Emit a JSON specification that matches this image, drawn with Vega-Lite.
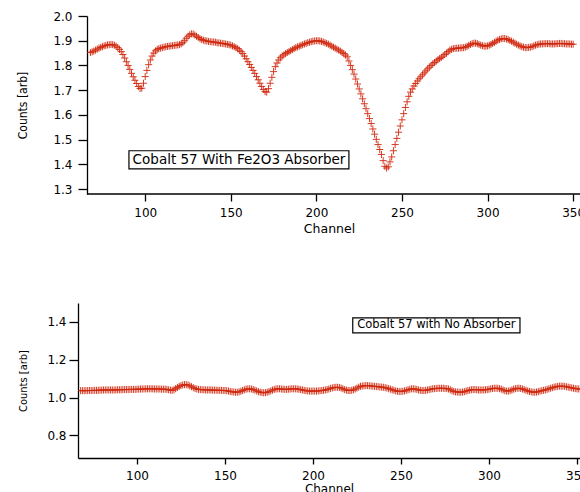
{
"$schema": "https://vega.github.io/schema/vega-lite/v6.json",
"padding": {"left": 16, "top": 10, "right": 0, "bottom": 0},
"background": "white",
"columns": 1,
"align": "none",
"spacing": 68,
"config": {
 "view": {"stroke": null},
 "axis": {"domainColor": "black", "domainWidth": 1.3, "tickColor": "black", "tickWidth": 1.3, "grid": false, "labelColor": "black", "titleColor": "black", "labelFont": "DejaVu Sans", "titleFont": "DejaVu Sans", "labelFontSize": 12, "titleFontWeight": "normal", "labelFlush": false, "labelOverlap": false}
},
"datasets": {
"fe": [
{"channel":68,"counts":1.852},{"channel":69,"counts":1.855},{"channel":70,"counts":1.858},{"channel":71,"counts":1.862},{"channel":72,"counts":1.866},{"channel":73,"counts":1.870},{"channel":74,"counts":1.873},{"channel":75,"counts":1.876},{"channel":76,"counts":1.879},{"channel":77,"counts":1.881},{"channel":78,"counts":1.883},{"channel":79,"counts":1.884},{"channel":80,"counts":1.885},{"channel":81,"counts":1.884},{"channel":82,"counts":1.882},{"channel":83,"counts":1.878},{"channel":84,"counts":1.872},{"channel":85,"counts":1.865},{"channel":86,"counts":1.856},{"channel":87,"counts":1.844},{"channel":88,"counts":1.830},{"channel":89,"counts":1.815},{"channel":90,"counts":1.800},{"channel":91,"counts":1.784},{"channel":92,"counts":1.768},{"channel":93,"counts":1.754},{"channel":94,"counts":1.740},{"channel":95,"counts":1.727},{"channel":96,"counts":1.715},{"channel":97,"counts":1.707},{"channel":98,"counts":1.708},{"channel":99,"counts":1.728},{"channel":100,"counts":1.755},{"channel":101,"counts":1.780},{"channel":102,"counts":1.803},{"channel":103,"counts":1.822},{"channel":104,"counts":1.838},{"channel":105,"counts":1.850},{"channel":106,"counts":1.859},{"channel":107,"counts":1.865},{"channel":108,"counts":1.868},{"channel":109,"counts":1.870},{"channel":110,"counts":1.872},{"channel":111,"counts":1.874},{"channel":112,"counts":1.876},{"channel":113,"counts":1.877},{"channel":114,"counts":1.878},{"channel":115,"counts":1.879},{"channel":116,"counts":1.880},{"channel":117,"counts":1.881},{"channel":118,"counts":1.882},{"channel":119,"counts":1.883},{"channel":120,"counts":1.884},{"channel":121,"counts":1.887},{"channel":122,"counts":1.892},{"channel":123,"counts":1.900},{"channel":124,"counts":1.910},{"channel":125,"counts":1.918},{"channel":126,"counts":1.924},{"channel":127,"counts":1.928},{"channel":128,"counts":1.927},{"channel":129,"counts":1.923},{"channel":130,"counts":1.918},{"channel":131,"counts":1.913},{"channel":132,"counts":1.908},{"channel":133,"counts":1.905},{"channel":134,"counts":1.902},{"channel":135,"counts":1.900},{"channel":136,"counts":1.899},{"channel":137,"counts":1.897},{"channel":138,"counts":1.896},{"channel":139,"counts":1.895},{"channel":140,"counts":1.895},{"channel":141,"counts":1.894},{"channel":142,"counts":1.892},{"channel":143,"counts":1.891},{"channel":144,"counts":1.890},{"channel":145,"counts":1.889},{"channel":146,"counts":1.888},{"channel":147,"counts":1.887},{"channel":148,"counts":1.885},{"channel":149,"counts":1.884},{"channel":150,"counts":1.882},{"channel":151,"counts":1.879},{"channel":152,"counts":1.876},{"channel":153,"counts":1.872},{"channel":154,"counts":1.868},{"channel":155,"counts":1.862},{"channel":156,"counts":1.856},{"channel":157,"counts":1.848},{"channel":158,"counts":1.838},{"channel":159,"counts":1.827},{"channel":160,"counts":1.815},{"channel":161,"counts":1.804},{"channel":162,"counts":1.792},{"channel":163,"counts":1.780},{"channel":164,"counts":1.768},{"channel":165,"counts":1.755},{"channel":166,"counts":1.742},{"channel":167,"counts":1.728},{"channel":168,"counts":1.715},{"channel":169,"counts":1.703},{"channel":170,"counts":1.694},{"channel":171,"counts":1.692},{"channel":172,"counts":1.706},{"channel":173,"counts":1.728},{"channel":174,"counts":1.752},{"channel":175,"counts":1.775},{"channel":176,"counts":1.795},{"channel":177,"counts":1.810},{"channel":178,"counts":1.822},{"channel":179,"counts":1.831},{"channel":180,"counts":1.838},{"channel":181,"counts":1.843},{"channel":182,"counts":1.848},{"channel":183,"counts":1.852},{"channel":184,"counts":1.856},{"channel":185,"counts":1.860},{"channel":186,"counts":1.864},{"channel":187,"counts":1.868},{"channel":188,"counts":1.872},{"channel":189,"counts":1.875},{"channel":190,"counts":1.878},{"channel":191,"counts":1.881},{"channel":192,"counts":1.884},{"channel":193,"counts":1.887},{"channel":194,"counts":1.889},{"channel":195,"counts":1.892},{"channel":196,"counts":1.894},{"channel":197,"counts":1.896},{"channel":198,"counts":1.898},{"channel":199,"counts":1.899},{"channel":200,"counts":1.900},{"channel":201,"counts":1.900},{"channel":202,"counts":1.899},{"channel":203,"counts":1.897},{"channel":204,"counts":1.895},{"channel":205,"counts":1.892},{"channel":206,"counts":1.889},{"channel":207,"counts":1.886},{"channel":208,"counts":1.882},{"channel":209,"counts":1.878},{"channel":210,"counts":1.874},{"channel":211,"counts":1.870},{"channel":212,"counts":1.866},{"channel":213,"counts":1.862},{"channel":214,"counts":1.858},{"channel":215,"counts":1.853},{"channel":216,"counts":1.848},{"channel":217,"counts":1.842},{"channel":218,"counts":1.835},{"channel":219,"counts":1.818},{"channel":220,"counts":1.800},{"channel":221,"counts":1.783},{"channel":222,"counts":1.765},{"channel":223,"counts":1.745},{"channel":224,"counts":1.725},{"channel":225,"counts":1.705},{"channel":226,"counts":1.685},{"channel":227,"counts":1.665},{"channel":228,"counts":1.645},{"channel":229,"counts":1.625},{"channel":230,"counts":1.605},{"channel":231,"counts":1.585},{"channel":232,"counts":1.565},{"channel":233,"counts":1.543},{"channel":234,"counts":1.522},{"channel":235,"counts":1.501},{"channel":236,"counts":1.480},{"channel":237,"counts":1.460},{"channel":238,"counts":1.440},{"channel":239,"counts":1.415},{"channel":240,"counts":1.392},{"channel":241,"counts":1.385},{"channel":242,"counts":1.390},{"channel":243,"counts":1.410},{"channel":244,"counts":1.430},{"channel":245,"counts":1.455},{"channel":246,"counts":1.480},{"channel":247,"counts":1.505},{"channel":248,"counts":1.530},{"channel":249,"counts":1.555},{"channel":250,"counts":1.580},{"channel":251,"counts":1.605},{"channel":252,"counts":1.630},{"channel":253,"counts":1.653},{"channel":254,"counts":1.675},{"channel":255,"counts":1.692},{"channel":256,"counts":1.705},{"channel":257,"counts":1.717},{"channel":258,"counts":1.727},{"channel":259,"counts":1.737},{"channel":260,"counts":1.746},{"channel":261,"counts":1.754},{"channel":262,"counts":1.762},{"channel":263,"counts":1.770},{"channel":264,"counts":1.778},{"channel":265,"counts":1.786},{"channel":266,"counts":1.793},{"channel":267,"counts":1.800},{"channel":268,"counts":1.806},{"channel":269,"counts":1.812},{"channel":270,"counts":1.818},{"channel":271,"counts":1.823},{"channel":272,"counts":1.828},{"channel":273,"counts":1.833},{"channel":274,"counts":1.838},{"channel":275,"counts":1.844},{"channel":276,"counts":1.850},{"channel":277,"counts":1.856},{"channel":278,"counts":1.862},{"channel":279,"counts":1.865},{"channel":280,"counts":1.868},{"channel":281,"counts":1.869},{"channel":282,"counts":1.870},{"channel":283,"counts":1.870},{"channel":284,"counts":1.871},{"channel":285,"counts":1.871},{"channel":286,"counts":1.872},{"channel":287,"counts":1.874},{"channel":288,"counts":1.877},{"channel":289,"counts":1.881},{"channel":290,"counts":1.885},{"channel":291,"counts":1.888},{"channel":292,"counts":1.890},{"channel":293,"counts":1.890},{"channel":294,"counts":1.888},{"channel":295,"counts":1.885},{"channel":296,"counts":1.882},{"channel":297,"counts":1.880},{"channel":298,"counts":1.878},{"channel":299,"counts":1.878},{"channel":300,"counts":1.879},{"channel":301,"counts":1.882},{"channel":302,"counts":1.885},{"channel":303,"counts":1.889},{"channel":304,"counts":1.893},{"channel":305,"counts":1.898},{"channel":306,"counts":1.902},{"channel":307,"counts":1.905},{"channel":308,"counts":1.908},{"channel":309,"counts":1.909},{"channel":310,"counts":1.909},{"channel":311,"counts":1.907},{"channel":312,"counts":1.905},{"channel":313,"counts":1.901},{"channel":314,"counts":1.898},{"channel":315,"counts":1.894},{"channel":316,"counts":1.890},{"channel":317,"counts":1.886},{"channel":318,"counts":1.882},{"channel":319,"counts":1.879},{"channel":320,"counts":1.876},{"channel":321,"counts":1.874},{"channel":322,"counts":1.872},{"channel":323,"counts":1.872},{"channel":324,"counts":1.873},{"channel":325,"counts":1.874},{"channel":326,"counts":1.876},{"channel":327,"counts":1.879},{"channel":328,"counts":1.882},{"channel":329,"counts":1.884},{"channel":330,"counts":1.886},{"channel":331,"counts":1.887},{"channel":332,"counts":1.887},{"channel":333,"counts":1.888},{"channel":334,"counts":1.888},{"channel":335,"counts":1.888},{"channel":336,"counts":1.888},{"channel":337,"counts":1.887},{"channel":338,"counts":1.887},{"channel":339,"counts":1.887},{"channel":340,"counts":1.888},{"channel":341,"counts":1.888},{"channel":342,"counts":1.889},{"channel":343,"counts":1.889},{"channel":344,"counts":1.888},{"channel":345,"counts":1.888},{"channel":346,"counts":1.887},{"channel":347,"counts":1.887},{"channel":348,"counts":1.887},{"channel":349,"counts":1.886},{"channel":350,"counts":1.886}
],
"none": [
{"channel":68,"counts":1.036},{"channel":69,"counts":1.036},{"channel":70,"counts":1.036},{"channel":71,"counts":1.036},{"channel":72,"counts":1.037},{"channel":73,"counts":1.037},{"channel":74,"counts":1.037},{"channel":75,"counts":1.037},{"channel":76,"counts":1.038},{"channel":77,"counts":1.038},{"channel":78,"counts":1.038},{"channel":79,"counts":1.039},{"channel":80,"counts":1.039},{"channel":81,"counts":1.040},{"channel":82,"counts":1.040},{"channel":83,"counts":1.040},{"channel":84,"counts":1.040},{"channel":85,"counts":1.040},{"channel":86,"counts":1.040},{"channel":87,"counts":1.040},{"channel":88,"counts":1.040},{"channel":89,"counts":1.041},{"channel":90,"counts":1.041},{"channel":91,"counts":1.041},{"channel":92,"counts":1.042},{"channel":93,"counts":1.042},{"channel":94,"counts":1.042},{"channel":95,"counts":1.042},{"channel":96,"counts":1.043},{"channel":97,"counts":1.043},{"channel":98,"counts":1.043},{"channel":99,"counts":1.043},{"channel":100,"counts":1.044},{"channel":101,"counts":1.044},{"channel":102,"counts":1.045},{"channel":103,"counts":1.045},{"channel":104,"counts":1.045},{"channel":105,"counts":1.046},{"channel":106,"counts":1.046},{"channel":107,"counts":1.046},{"channel":108,"counts":1.046},{"channel":109,"counts":1.046},{"channel":110,"counts":1.045},{"channel":111,"counts":1.045},{"channel":112,"counts":1.045},{"channel":113,"counts":1.045},{"channel":114,"counts":1.044},{"channel":115,"counts":1.044},{"channel":116,"counts":1.044},{"channel":117,"counts":1.043},{"channel":118,"counts":1.041},{"channel":119,"counts":1.039},{"channel":120,"counts":1.038},{"channel":121,"counts":1.041},{"channel":122,"counts":1.047},{"channel":123,"counts":1.053},{"channel":124,"counts":1.059},{"channel":125,"counts":1.063},{"channel":126,"counts":1.066},{"channel":127,"counts":1.068},{"channel":128,"counts":1.068},{"channel":129,"counts":1.066},{"channel":130,"counts":1.062},{"channel":131,"counts":1.057},{"channel":132,"counts":1.052},{"channel":133,"counts":1.048},{"channel":134,"counts":1.045},{"channel":135,"counts":1.043},{"channel":136,"counts":1.042},{"channel":137,"counts":1.041},{"channel":138,"counts":1.041},{"channel":139,"counts":1.040},{"channel":140,"counts":1.040},{"channel":141,"counts":1.040},{"channel":142,"counts":1.040},{"channel":143,"counts":1.039},{"channel":144,"counts":1.039},{"channel":145,"counts":1.039},{"channel":146,"counts":1.038},{"channel":147,"counts":1.038},{"channel":148,"counts":1.038},{"channel":149,"counts":1.037},{"channel":150,"counts":1.037},{"channel":151,"counts":1.036},{"channel":152,"counts":1.034},{"channel":153,"counts":1.032},{"channel":154,"counts":1.030},{"channel":155,"counts":1.029},{"channel":156,"counts":1.028},{"channel":157,"counts":1.028},{"channel":158,"counts":1.030},{"channel":159,"counts":1.033},{"channel":160,"counts":1.037},{"channel":161,"counts":1.041},{"channel":162,"counts":1.044},{"channel":163,"counts":1.046},{"channel":164,"counts":1.046},{"channel":165,"counts":1.045},{"channel":166,"counts":1.042},{"channel":167,"counts":1.039},{"channel":168,"counts":1.035},{"channel":169,"counts":1.031},{"channel":170,"counts":1.028},{"channel":171,"counts":1.026},{"channel":172,"counts":1.025},{"channel":173,"counts":1.026},{"channel":174,"counts":1.028},{"channel":175,"counts":1.031},{"channel":176,"counts":1.035},{"channel":177,"counts":1.039},{"channel":178,"counts":1.043},{"channel":179,"counts":1.045},{"channel":180,"counts":1.046},{"channel":181,"counts":1.046},{"channel":182,"counts":1.045},{"channel":183,"counts":1.044},{"channel":184,"counts":1.043},{"channel":185,"counts":1.043},{"channel":186,"counts":1.044},{"channel":187,"counts":1.045},{"channel":188,"counts":1.046},{"channel":189,"counts":1.046},{"channel":190,"counts":1.046},{"channel":191,"counts":1.045},{"channel":192,"counts":1.044},{"channel":193,"counts":1.042},{"channel":194,"counts":1.040},{"channel":195,"counts":1.038},{"channel":196,"counts":1.036},{"channel":197,"counts":1.035},{"channel":198,"counts":1.034},{"channel":199,"counts":1.034},{"channel":200,"counts":1.034},{"channel":201,"counts":1.034},{"channel":202,"counts":1.034},{"channel":203,"counts":1.035},{"channel":204,"counts":1.036},{"channel":205,"counts":1.037},{"channel":206,"counts":1.038},{"channel":207,"counts":1.040},{"channel":208,"counts":1.042},{"channel":209,"counts":1.045},{"channel":210,"counts":1.048},{"channel":211,"counts":1.051},{"channel":212,"counts":1.053},{"channel":213,"counts":1.054},{"channel":214,"counts":1.054},{"channel":215,"counts":1.053},{"channel":216,"counts":1.050},{"channel":217,"counts":1.046},{"channel":218,"counts":1.042},{"channel":219,"counts":1.039},{"channel":220,"counts":1.037},{"channel":221,"counts":1.037},{"channel":222,"counts":1.038},{"channel":223,"counts":1.041},{"channel":224,"counts":1.045},{"channel":225,"counts":1.050},{"channel":226,"counts":1.055},{"channel":227,"counts":1.059},{"channel":228,"counts":1.061},{"channel":229,"counts":1.062},{"channel":230,"counts":1.063},{"channel":231,"counts":1.063},{"channel":232,"counts":1.062},{"channel":233,"counts":1.061},{"channel":234,"counts":1.060},{"channel":235,"counts":1.059},{"channel":236,"counts":1.058},{"channel":237,"counts":1.057},{"channel":238,"counts":1.056},{"channel":239,"counts":1.055},{"channel":240,"counts":1.054},{"channel":241,"counts":1.052},{"channel":242,"counts":1.050},{"channel":243,"counts":1.047},{"channel":244,"counts":1.044},{"channel":245,"counts":1.041},{"channel":246,"counts":1.038},{"channel":247,"counts":1.035},{"channel":248,"counts":1.033},{"channel":249,"counts":1.032},{"channel":250,"counts":1.032},{"channel":251,"counts":1.033},{"channel":252,"counts":1.035},{"channel":253,"counts":1.038},{"channel":254,"counts":1.041},{"channel":255,"counts":1.044},{"channel":256,"counts":1.046},{"channel":257,"counts":1.046},{"channel":258,"counts":1.045},{"channel":259,"counts":1.043},{"channel":260,"counts":1.040},{"channel":261,"counts":1.038},{"channel":262,"counts":1.037},{"channel":263,"counts":1.037},{"channel":264,"counts":1.038},{"channel":265,"counts":1.040},{"channel":266,"counts":1.042},{"channel":267,"counts":1.044},{"channel":268,"counts":1.046},{"channel":269,"counts":1.047},{"channel":270,"counts":1.048},{"channel":271,"counts":1.049},{"channel":272,"counts":1.049},{"channel":273,"counts":1.049},{"channel":274,"counts":1.049},{"channel":275,"counts":1.048},{"channel":276,"counts":1.047},{"channel":277,"counts":1.045},{"channel":278,"counts":1.041},{"channel":279,"counts":1.036},{"channel":280,"counts":1.032},{"channel":281,"counts":1.030},{"channel":282,"counts":1.029},{"channel":283,"counts":1.028},{"channel":284,"counts":1.028},{"channel":285,"counts":1.029},{"channel":286,"counts":1.031},{"channel":287,"counts":1.034},{"channel":288,"counts":1.037},{"channel":289,"counts":1.039},{"channel":290,"counts":1.041},{"channel":291,"counts":1.042},{"channel":292,"counts":1.042},{"channel":293,"counts":1.041},{"channel":294,"counts":1.040},{"channel":295,"counts":1.040},{"channel":296,"counts":1.040},{"channel":297,"counts":1.040},{"channel":298,"counts":1.041},{"channel":299,"counts":1.042},{"channel":300,"counts":1.044},{"channel":301,"counts":1.046},{"channel":302,"counts":1.048},{"channel":303,"counts":1.049},{"channel":304,"counts":1.049},{"channel":305,"counts":1.049},{"channel":306,"counts":1.047},{"channel":307,"counts":1.044},{"channel":308,"counts":1.040},{"channel":309,"counts":1.036},{"channel":310,"counts":1.034},{"channel":311,"counts":1.034},{"channel":312,"counts":1.036},{"channel":313,"counts":1.040},{"channel":314,"counts":1.044},{"channel":315,"counts":1.047},{"channel":316,"counts":1.049},{"channel":317,"counts":1.049},{"channel":318,"counts":1.048},{"channel":319,"counts":1.045},{"channel":320,"counts":1.042},{"channel":321,"counts":1.038},{"channel":322,"counts":1.035},{"channel":323,"counts":1.032},{"channel":324,"counts":1.030},{"channel":325,"counts":1.028},{"channel":326,"counts":1.028},{"channel":327,"counts":1.029},{"channel":328,"counts":1.031},{"channel":329,"counts":1.034},{"channel":330,"counts":1.036},{"channel":331,"counts":1.038},{"channel":332,"counts":1.040},{"channel":333,"counts":1.043},{"channel":334,"counts":1.046},{"channel":335,"counts":1.049},{"channel":336,"counts":1.052},{"channel":337,"counts":1.055},{"channel":338,"counts":1.057},{"channel":339,"counts":1.059},{"channel":340,"counts":1.060},{"channel":341,"counts":1.060},{"channel":342,"counts":1.060},{"channel":343,"counts":1.059},{"channel":344,"counts":1.057},{"channel":345,"counts":1.055},{"channel":346,"counts":1.053},{"channel":347,"counts":1.051},{"channel":348,"counts":1.049},{"channel":349,"counts":1.047},{"channel":350,"counts":1.046},{"channel":351,"counts":1.045},{"channel":352,"counts":1.044}
]
},
"concat": [
{
 "width": 502, "height": 178,
 "layer": [
  {"data": {"name": "fe"},
   "mark": {"type": "point", "shape": "M-1,0H1M0,-1V1", "filled": false, "stroke": "#d0260c", "strokeWidth": 1, "size": 50, "opacity": 0.9, "clip": true},
   "encoding": {
    "x": {"field": "channel", "type": "quantitative", "scale": {"domain": [60.74, 354], "nice": false, "zero": false}, "axis": {"values": [100, 150, 200, 250, 300, 350], "tickCount": 10, "domain": false, "title": "Channel", "titleFontSize": 12.5, "tickSize": 7, "labelPadding": 6, "titlePadding": 4}},
    "y": {"field": "counts", "type": "quantitative", "scale": {"domain": [1.28, 2.0], "nice": false, "zero": false}, "axis": {"values": [1.3, 1.4, 1.5, 1.6, 1.7, 1.8, 1.9, 2.0], "tickCount": 10, "offset": -9, "format": ".1f", "title": "Counts [arb]", "titleFont": "Liberation Sans Narrow, DejaVu Sans Condensed, sans-serif", "titleFontSize": 12, "tickSize": 9, "labelPadding": 6, "titlePadding": 23}}
   }},
  {"data": {"values": [{"label": "x axis line"}]},
   "mark": {"type": "rule", "color": "black", "strokeWidth": 1.3},
   "encoding": {"x": {"datum": 66, "type": "quantitative"}, "x2": {"datum": 354}, "y": {"datum": 1.28, "type": "quantitative"}}},
  {"data": {"values": [{"label": "Cobalt 57 With Fe2O3 Absorber"}]},
   "mark": {"type": "rect", "fill": "white", "stroke": "black", "strokeWidth": 1.2},
   "encoding": {"x": {"datum": 90.5, "type": "quantitative"}, "x2": {"datum": 219}, "y": {"datum": 1.455, "type": "quantitative"}, "y2": {"datum": 1.382}}},
  {"data": {"values": [{"label": "Cobalt 57 With Fe2O3 Absorber"}]},
   "mark": {"type": "text", "font": "DejaVu Sans", "fontSize": 13.5, "color": "black", "align": "center", "baseline": "middle"},
   "encoding": {"x": {"datum": 154.8, "type": "quantitative"}, "y": {"datum": 1.418, "type": "quantitative"}, "text": {"field": "label"}}}
 ]
},
{
 "width": 502, "height": 155,
 "layer": [
  {"data": {"name": "none"},
   "mark": {"type": "point", "shape": "M-1,0H1M0,-1V1", "filled": false, "stroke": "#d0260c", "strokeWidth": 1, "size": 50, "opacity": 0.9, "clip": true},
   "encoding": {
    "x": {"field": "channel", "type": "quantitative", "scale": {"domain": [66.5, 351.7], "nice": false, "zero": false}, "axis": {"values": [100, 150, 200, 250, 300, 350], "tickCount": 10, "title": "Channel", "titleFontSize": 12, "tickSize": 6, "labelPadding": 6, "titlePadding": 2}},
    "y": {"field": "counts", "type": "quantitative", "scale": {"domain": [0.68, 1.5], "nice": false, "zero": false}, "axis": {"values": [0.8, 1.0, 1.2, 1.4], "tickCount": 10, "format": ".1f", "title": "Counts [arb]", "titleFont": "Liberation Sans Narrow, DejaVu Sans Condensed, sans-serif", "titleFontSize": 11, "tickSize": 9, "labelPadding": 3, "titlePadding": 18}}
   }},
  {"data": {"values": [{"label": "Cobalt 57 with No Absorber"}]},
   "mark": {"type": "rect", "fill": "white", "stroke": "black", "strokeWidth": 1.2},
   "encoding": {"x": {"datum": 222.6, "type": "quantitative"}, "x2": {"datum": 317.6}, "y": {"datum": 1.421, "type": "quantitative"}, "y2": {"datum": 1.342}}},
  {"data": {"values": [{"label": "Cobalt 57 with No Absorber"}]},
   "mark": {"type": "text", "font": "DejaVu Sans", "fontSize": 11.5, "color": "black", "align": "center", "baseline": "middle"},
   "encoding": {"x": {"datum": 270.1, "type": "quantitative"}, "y": {"datum": 1.382, "type": "quantitative"}, "text": {"field": "label"}}}
 ]
}
]
}
